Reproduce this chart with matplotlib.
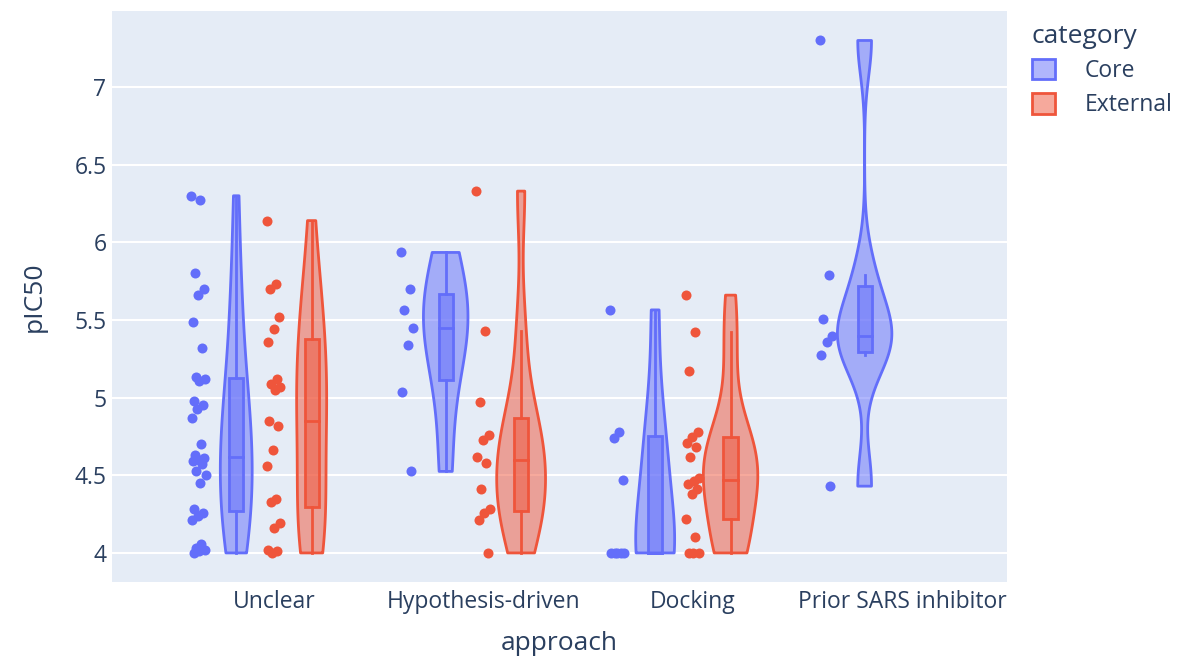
import numpy as np
import matplotlib.pyplot as plt
from matplotlib.patches import Patch, Rectangle
from matplotlib.ticker import FormatStrFormatter

plt.rcParams['font.family'] = ['Open Sans', 'DejaVu Sans']

approaches = ['Unclear', 'Hypothesis-driven', 'Docking', 'Prior SARS inhibitor']
categories = ['Core', 'External']
colors = {'Core': '#636EFA', 'External': '#EF553B'}

# pIC50 values
unclear_core = [6.30, 6.27, 5.80, 5.70, 5.66, 5.49, 5.32, 5.13, 5.12, 5.11,
                4.98, 4.95, 4.93, 4.87, 4.70, 4.63, 4.61, 4.60, 4.59, 4.57,
                4.53, 4.50, 4.45, 4.28, 4.26, 4.24, 4.21, 4.06, 4.03, 4.02,
                4.01, 4.00]
unclear_external = [6.14, 5.73, 5.70, 5.52, 5.44, 5.36, 5.12, 5.09, 5.07, 5.05,
                    4.85, 4.82, 4.66, 4.56, 4.35, 4.33, 4.19, 4.16, 4.02, 4.01,
                    4.00]
hypothesis_core = [5.935, 5.70, 5.565, 5.45, 5.34, 5.035, 4.525]
hypothesis_external = [6.33, 5.43, 4.975, 4.76, 4.73, 4.62, 4.58, 4.41, 4.28,
                       4.255, 4.21, 4.00]
docking_core = [5.565, 4.78, 4.74, 4.47, 4.00, 4.00, 4.00, 4.00, 4.00]
docking_external = [5.66, 5.42, 5.17, 4.78, 4.745, 4.71, 4.68, 4.62, 4.48, 4.46,
                    4.445, 4.41, 4.38, 4.22, 4.105, 4.00, 4.00, 4.00]
prior_core = [7.30, 5.79, 5.505, 5.40, 5.36, 5.275, 4.43]

groups = {
    ('Unclear', 'Core'): unclear_core,
    ('Unclear', 'External'): unclear_external,
    ('Hypothesis-driven', 'Core'): hypothesis_core,
    ('Hypothesis-driven', 'External'): hypothesis_external,
    ('Docking', 'Core'): docking_core,
    ('Docking', 'External'): docking_external,
    ('Prior SARS inhibitor', 'Core'): prior_core,
}


def kde(vals, grid):
    vals = np.asarray(vals, dtype=float)
    q1, q3 = np.percentile(vals, [25, 75], method='hazen')
    sd = vals.std()
    bw = 1.059 * min(sd, (q3 - q1) / 1.349) * len(vals) ** -0.2
    if bw <= 0:
        bw = sd * len(vals) ** -0.2
    z = (grid[:, None] - vals[None, :]) / bw
    return np.exp(-0.5 * z ** 2).sum(axis=1) / (len(vals) * bw * np.sqrt(2 * np.pi))


fig = plt.figure(figsize=(11.88, 6.57), dpi=100)
ax = fig.add_axes([0.0943, 0.1142, 0.7534, 0.8691])
ax.set_facecolor('#E5ECF6')

# densities first, so each category shares one scale
dens = {}
for key, vals in groups.items():
    grid = np.linspace(min(vals), max(vals), 200)
    dens[key] = (grid, kde(vals, grid))
maxkde = {c: max(d.max() for (a, cc), (g, d) in dens.items() if cc == c) for c in categories}

half_w = 0.13
box_w = 0.034
offs = {'Core': -0.18, 'External': 0.18}
pt_off = -0.18

for key, vals in groups.items():
    a, c = key
    col = colors[c]
    pos = approaches.index(a) + offs[c]
    grid, d = dens[key]
    w = half_w * d / maxkde[c]
    ax.fill_betweenx(grid, pos - w, pos + w, facecolor=col, alpha=0.5, lw=0, zorder=2)
    ax.fill_betweenx(grid, pos - w, pos + w, facecolor='none', edgecolor=col, lw=2, zorder=3)

    v = np.sort(np.asarray(vals))
    q1, med, q3 = np.percentile(v, [25, 50, 75], method='hazen')
    iqr = q3 - q1
    hi = v[v <= q3 + 1.5 * iqr].max()
    lo = v[v >= q1 - 1.5 * iqr].min()
    ax.plot([pos, pos], [q3, hi], color=col, lw=2, zorder=4)
    ax.plot([pos, pos], [lo, q1], color=col, lw=2, zorder=4)
    ax.add_patch(Rectangle((pos - box_w, q1), 2 * box_w, q3 - q1, facecolor=col,
                           alpha=0.5, lw=0, zorder=4))
    ax.add_patch(Rectangle((pos - box_w, q1), 2 * box_w, q3 - q1, facecolor='none',
                           edgecolor=col, lw=2, zorder=5))
    ax.plot([pos - box_w, pos + box_w], [med, med], color=col, lw=2, zorder=5)

    # simple deterministic spread of the points
    idx = np.arange(len(vals))
    jit = ((idx * 0.618) % 1.0 * 2 - 1) * 0.035
    ax.scatter(pos + pt_off + jit, vals, s=52, color=col, lw=0, zorder=6)

ax.set_xlim(-0.773, 3.5)
ax.set_ylim(3.813, 7.49)
ax.set_xticks(range(len(approaches)))
ax.set_xticklabels(approaches)
ax.set_yticks(np.arange(4, 7.01, 0.5))
ax.yaxis.set_major_formatter(FormatStrFormatter('%g'))
ax.grid(axis='y', color='white', lw=1.5)
ax.set_axisbelow(True)
for s in ax.spines.values():
    s.set_visible(False)
ax.tick_params(length=0, labelsize=16.5, labelcolor='#2a3f5f')
ax.tick_params(axis='x', pad=6)
ax.tick_params(axis='y', pad=4)
ax.set_xlabel('approach', fontsize=19, color='#2a3f5f', labelpad=12)
ax.set_ylabel('pIC50', fontsize=19, color='#2a3f5f', labelpad=20)

handles = [Patch(facecolor=colors[c] + '80', edgecolor=colors[c], lw=2, label=c) for c in categories]
leg = fig.legend(handles=handles, title='category', loc='upper left',
                 bbox_to_anchor=(0.857, 0.985), frameon=False, fontsize=16.5,
                 title_fontsize=19, handlelength=1.0, handleheight=1.0,
                 handletextpad=1.3, labelspacing=0.45, alignment='left',
                 borderaxespad=0.2)
for t in leg.get_texts():
    t.set_color('#2a3f5f')
leg.get_title().set_color('#2a3f5f')

fig.savefig('out.png', dpi=100)
